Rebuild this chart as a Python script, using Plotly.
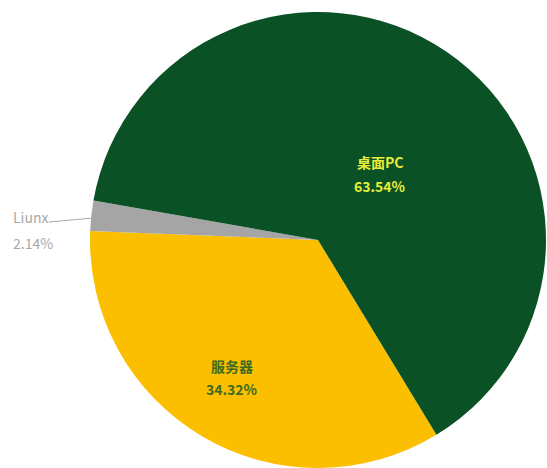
import plotly.graph_objects as go

labels = ["服务器", "Liunx", "桌面PC"]
values = [34.32, 2.14, 63.54]
pct_text = ["34.32%", "2.14%", "63.54%"]
colors = ["#fcbf00", "#a5a5a5", "#0b5126"]

W, H = 547, 468

def px(x):
    return x / W

def py(y):
    return (H - y) / H

fig = go.Figure(go.Pie(
    labels=labels,
    values=values,
    sort=False,
    direction="clockwise",
    rotation=148.7,
    marker=dict(colors=colors, line=dict(width=0)),
    textinfo="none",
    hoverinfo="label+percent",
    domain=dict(x=[px(90), px(546)], y=[py(468), py(12)]),
    showlegend=False,
))

font_cjk = "Noto Sans CJK SC, Noto Sans, sans-serif"
# label placement (pixel positions of label name line and percent line)
place = {
    "桌面PC": dict(x=380, y1=162, y2=186, color="#e6ee3a", anchor="center", bold=True),
    "服务器": dict(x=232, y1=366, y2=389, color="#3d6a1e", anchor="center", bold=True),
    "Liunx": dict(x=11, y1=217, y2=243, color="#a8a8a8", anchor="left", bold=False),
}
annotations = []
for lab, pct in zip(labels, pct_text):
    p = place[lab]
    for txt, yy in ((lab, p["y1"]), (pct, p["y2"])):
        t = f"<b>{txt}</b>" if p["bold"] else txt
        annotations.append(dict(
            text=t, x=px(p["x"]), y=py(yy), xref="paper", yref="paper",
            xanchor=p["anchor"], yanchor="middle", showarrow=False,
            font=dict(family=font_cjk, size=14, color=p["color"]),
        ))

fig.update_layout(
    width=W, height=H,
    margin=dict(l=0, r=0, t=0, b=0),
    paper_bgcolor="white",
    plot_bgcolor="white",
    annotations=annotations,
    shapes=[dict(type="line", xref="paper", yref="paper",
                 x0=px(49), y0=py(222), x1=px(93), y1=py(218),
                 line=dict(color="#a8a8a8", width=1))],
)

fig.write_html("out.html")
